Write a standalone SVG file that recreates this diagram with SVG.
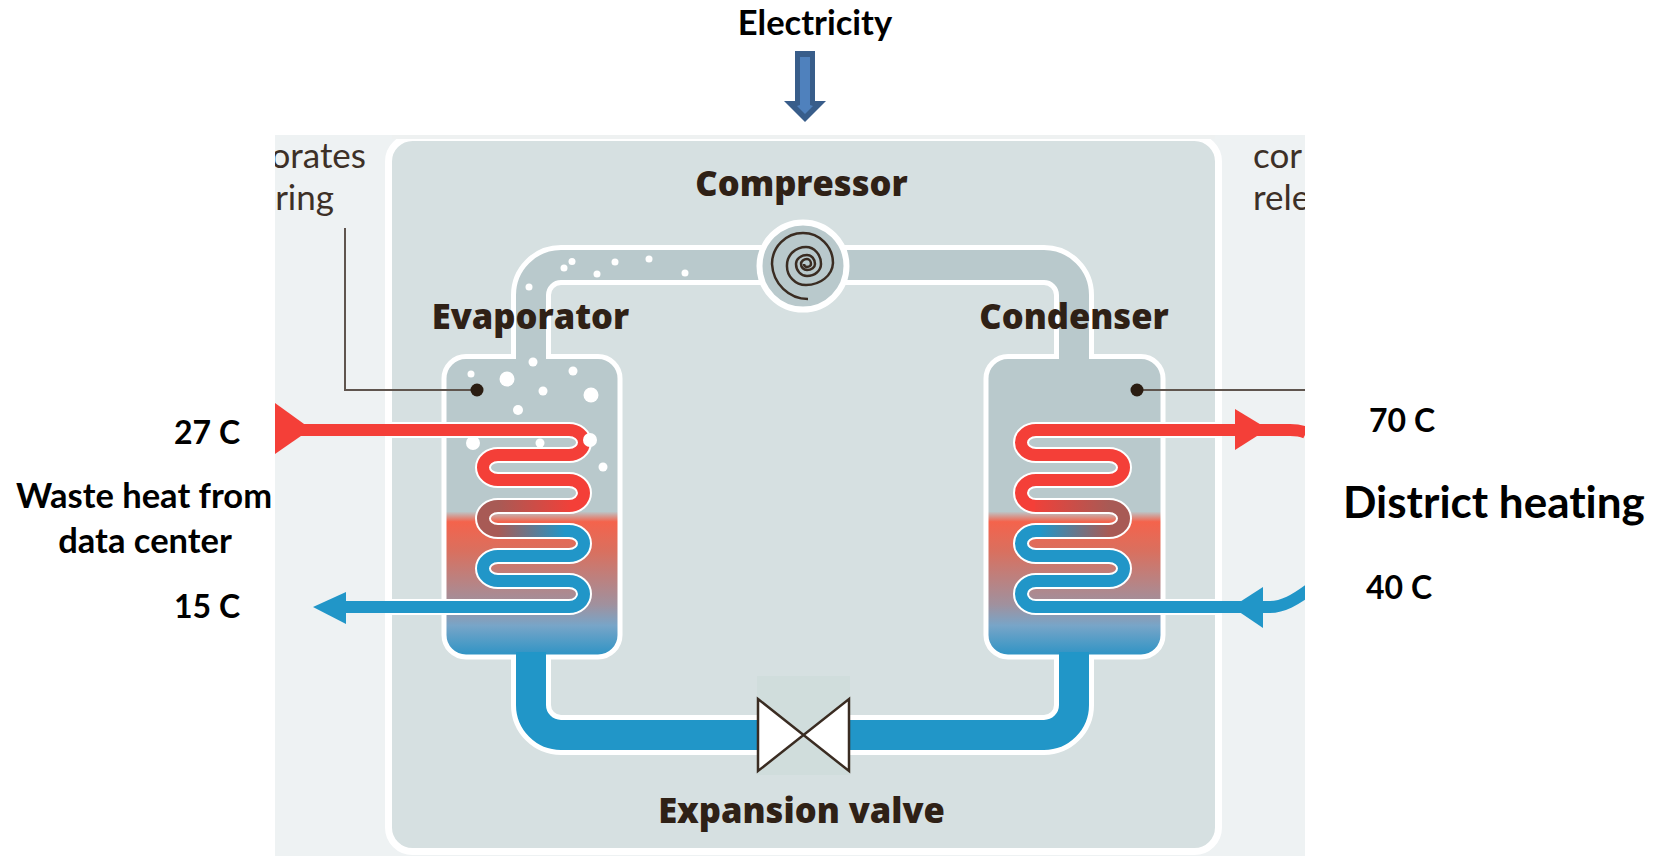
<svg xmlns="http://www.w3.org/2000/svg" width="1656" height="856" viewBox="0 0 1656 856">
<style>
text{font-variant-ligatures:none}
.lab{font-family:"Lato","Liberation Sans",sans-serif;font-weight:700;fill:#000}
.s{font-size:34.5px}
.t{font-size:32px}
.head{font-family:"Open Sans","Liberation Sans",sans-serif;font-weight:800;font-size:34.5px;fill:#2f2116}
.cut{font-family:"Lato","Liberation Sans",sans-serif;font-size:35px;fill:#3d3027}
.wpipe{fill:none;stroke:#fff;stroke-width:40}
.coilw{fill:none;stroke:#fff;stroke-width:16}
.red{fill:none;stroke:#f43f38;stroke-width:12}
.blue{fill:none;stroke:#2196c8;stroke-width:12}
.lead{fill:none;stroke:#5f554e;stroke-width:2}
.dot{fill:#2b1d12}
.bub{fill:#fff}
.tank{fill:url(#tankG);stroke:#fff;stroke-width:5}
</style>
<defs>
<linearGradient id="tankG" gradientUnits="userSpaceOnUse" x1="0" y1="359" x2="0" y2="655">
<stop offset="0.515" stop-color="#b9c9cc"/><stop offset="0.55" stop-color="#f4634c"/><stop offset="0.65" stop-color="#d9705f"/><stop offset="0.83" stop-color="#a0919e"/><stop offset="0.9" stop-color="#78a5c8"/><stop offset="1" stop-color="#2f94c5"/>
</linearGradient>
<linearGradient id="lr4" gradientUnits="userSpaceOnUse" x1="498" y1="0" x2="575" y2="0"><stop offset="0" stop-color="#a85a55"/><stop offset="1" stop-color="#f43f38"/></linearGradient>
<linearGradient id="lr5" gradientUnits="userSpaceOnUse" x1="498" y1="0" x2="565" y2="0"><stop offset="0" stop-color="#a85a55"/><stop offset="1" stop-color="#2196c8"/></linearGradient>
<linearGradient id="rr4" gradientUnits="userSpaceOnUse" x1="1030" y1="0" x2="1109" y2="0"><stop offset="0" stop-color="#f43f38"/><stop offset="1" stop-color="#a85a55"/></linearGradient>
<linearGradient id="rr5" gradientUnits="userSpaceOnUse" x1="1040" y1="0" x2="1109" y2="0"><stop offset="0" stop-color="#2196c8"/><stop offset="1" stop-color="#a85a55"/></linearGradient>
<clipPath id="panel"><rect x="275" y="135" width="1030" height="721"/></clipPath>
</defs>
<rect width="1656" height="856" fill="#fff"/>
<g id="panels">
<rect x="275" y="135" width="1030" height="721" fill="#eef2f3"/>
<rect x="388.500" y="137.500" width="830" height="714" rx="24" fill="#d6e0e1" stroke="#fff" stroke-width="7"/>
<rect x="392" y="135" width="823" height="4" fill="#eef1f1"/>
</g>
<g clip-path="url(#panel)">
<text class="cut" x="366" y="168" text-anchor="end">orates</text>
<text class="cut" x="334" y="210" text-anchor="end">ring</text>
<text class="cut" x="1253" y="168">cor</text>
<text class="cut" x="1253" y="210">rele</text>
</g>
<g id="connectors">
<path class="wpipe" d="M531 360V295A30 30 0 0 1 561 265H1044A30 30 0 0 1 1074 295V360"/>
<path class="wpipe" d="M531 654V705A30 30 0 0 0 561 735H1044A30 30 0 0 0 1074 705V654"/>
</g>
<g id="evaporator">
<rect class="tank" x="444" y="356.500" width="176" height="300.500" rx="22"/>
</g>
<g id="condenser">
<rect class="tank" x="986" y="356.500" width="177" height="300.500" rx="22"/>
</g>
<g id="pipes">
<path fill="none" stroke="#b9c9cc" stroke-width="30" d="M531 362V295A30 30 0 0 1 561 265H1044A30 30 0 0 1 1074 295V362"/>
<path fill="none" stroke="#2196c8" stroke-width="30" d="M531 652V705A30 30 0 0 0 561 735H1044A30 30 0 0 0 1074 705V652"/>
</g>
<g id="evaporator-coil">
<path class="coilw" d="M392 430H569A15 12.500 0 0 1 569 455H498A15 12.500 0 0 0 498 480H569A15 13 0 0 1 569 506H498A15 12.500 0 0 0 498 531H569A15 12.500 0 0 1 569 556H498A15 12.500 0 0 0 498 581H569A15 13 0 0 1 569 607H392"/>
<path class="red" d="M300 430H569A15 12.500 0 0 1 569 455H498A15 12.500 0 0 0 498 480H569A15 13 0 0 1 569 506"/>
<path fill="none" stroke="url(#lr4)" stroke-width="12" d="M570 506H498"/>
<path fill="none" stroke="#a85a55" stroke-width="12" d="M498 506A15 12.500 0 0 0 498 531"/>
<path fill="none" stroke="url(#lr5)" stroke-width="12" d="M498 531H566"/>
<path class="blue" d="M565 531H569A15 12.500 0 0 1 569 556H498A15 12.500 0 0 0 498 581H569A15 13 0 0 1 569 607H330"/>
</g>
<g id="condenser-coil" clip-path="url(#panel)">
<path class="coilw" d="M1215 430H1036A15 12.500 0 0 0 1036 455H1109A15 12.500 0 0 1 1109 480H1036A15 13 0 0 0 1036 506H1109A15 12.500 0 0 1 1109 531H1036A15 12.500 0 0 0 1036 556H1109A15 12.500 0 0 1 1109 581H1036A15 13 0 0 0 1036 607H1215"/>
<path class="red" d="M1306 433Q1300 430 1290 430H1036A15 12.500 0 0 0 1036 455H1109A15 12.500 0 0 1 1109 480H1036A15 13 0 0 0 1036 506"/>
<path fill="none" stroke="url(#rr4)" stroke-width="12" d="M1035 506H1109"/>
<path fill="none" stroke="#a85a55" stroke-width="12" d="M1109 506A15 12.500 0 0 1 1109 531"/>
<path fill="none" stroke="url(#rr5)" stroke-width="12" d="M1109 531H1040"/>
<path class="blue" d="M1041 531H1036A15 12.500 0 0 0 1036 556H1109A15 12.500 0 0 1 1109 581H1036A15 13 0 0 0 1036 607H1270C1283 607 1295 600 1310 589"/>
</g>
<g id="arrowheads">
<polygon points="275,403 311,429 275,454" fill="#f43f38"/>
<polygon points="313,607 346,592 346,624" fill="#2196c8"/>
<polygon points="1235,409 1268,429 1235,450" fill="#f43f38"/>
<polygon points="1232,607 1263,587 1263,628" fill="#2196c8"/>
</g>
<g id="bubbles">
<circle class="bub" cx="471" cy="374" r="3.500"/><circle class="bub" cx="507" cy="379" r="7.500"/><circle class="bub" cx="533" cy="362" r="4.500"/><circle class="bub" cx="573" cy="371" r="4.500"/><circle class="bub" cx="543" cy="391" r="4.500"/><circle class="bub" cx="591" cy="395" r="7.500"/><circle class="bub" cx="518" cy="410" r="5"/><circle class="bub" cx="473" cy="443" r="7"/><circle class="bub" cx="540" cy="443" r="4.500"/><circle class="bub" cx="590" cy="440" r="7"/><circle class="bub" cx="603" cy="467" r="4.500"/>
<circle class="bub" cx="529" cy="287" r="3.500"/><circle class="bub" cx="564" cy="268" r="3.500"/><circle class="bub" cx="572" cy="261.500" r="3.500"/><circle class="bub" cx="597" cy="274" r="3.500"/><circle class="bub" cx="615" cy="262" r="3.500"/><circle class="bub" cx="649" cy="259" r="3.500"/><circle class="bub" cx="685" cy="273" r="3.500"/>
</g>
<g id="leaders">
<path class="lead" d="M345 228V390H477"/>
<circle class="dot" cx="477" cy="390" r="6.500"/>
<path class="lead" d="M1137 390H1305"/>
<circle class="dot" cx="1137" cy="390" r="6.500"/>
</g>
<g id="compressor">
<circle cx="803" cy="266" r="43.500" fill="#b9c9cc" stroke="#fff" stroke-width="6"/>
<path fill="none" stroke="#3a2c22" stroke-width="2.500" d="M808 299A36 37 0 0 1 772 264A31 31 0 0 1 803 233A30 30 0 0 1 833 263A27 23 0 0 1 806 285A19 19 0 0 1 787 265A19 18 0 0 1 806 247A15 17 0 0 1 821 264A14 12 0 0 1 807 276A11 12 0 0 1 796 264A11 9 0 0 1 807 255A8 9 0 0 1 815 264A8 6 0 0 1 807 270A6 6 0 0 1 801 264A6 5 0 0 1 807 259A4 5 0 0 1 811 264A4 3 0 0 1 807 267A3 3 0 0 1 804 264"/>
<text class="head" x="801.500" y="196" text-anchor="middle">Compressor</text>
</g>
<g id="expansion-valve">
<rect x="757" y="676" width="93" height="99" fill="#d0dddc"/>
<polygon points="758,699 849,771 849,699 758,771" fill="#fff" stroke="#3a2c22" stroke-width="2.500"/>
<text class="head" x="801.500" y="823" text-anchor="middle">Expansion valve</text>
</g>
<text class="head" x="530.500" y="329" text-anchor="middle">Evaporator</text>
<text class="head" x="1074" y="329" text-anchor="middle">Condenser</text>
<g id="electricity">
<polygon points="795,51 815,51 815,101 826,101 805,122 784,101 795,101" fill="#385d8a"/>
<polygon points="800,57 810,57 810,105 813,106 805,114 797,106 800,105" fill="#4f81bd"/>
<text class="lab s" x="815" y="35" text-anchor="middle">Electricity</text>
</g>
<g id="labels">
<text class="lab t" x="174" y="444">27 C</text>
<text class="lab s" x="144" y="508" text-anchor="middle">Waste heat from</text>
<text class="lab s" x="145" y="553" text-anchor="middle">data center</text>
<text class="lab t" x="174" y="618">15 C</text>
<text class="lab t" x="1369" y="432">70 C</text>
<text class="lab" style="font-size:44px" x="1343" y="518">District heating</text>
<text class="lab t" x="1366" y="599">40 C</text>
</g>
</svg>
